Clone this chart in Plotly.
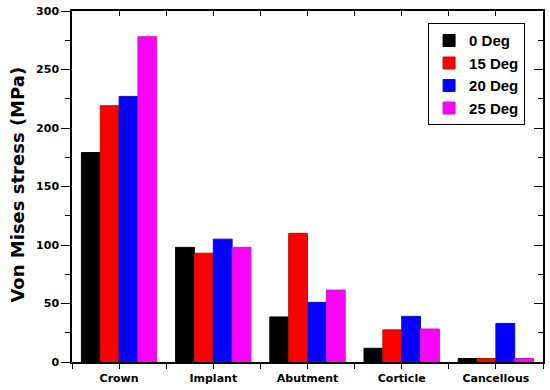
import plotly.graph_objects as go

categories = ["Crown", "Implant", "Abutment", "Corticle", "Cancellous"]
series_names = ["0 Deg", "15 Deg", "20 Deg", "25 Deg"]
deg0 = [179, 98, 38.5, 11.7, 3]
deg15 = [219, 93, 110, 27.5, 3]
deg20 = [227, 105, 51, 39, 33]
deg25 = [278, 98, 61.5, 28.2, 3]
y_ticks = [0, 50, 100, 150, 200, 250, 300]
y_title = "Von Mises stress (MPa)"

series = [deg0, deg15, deg20, deg25]
fills = ["#000000", "#FF0000", "#0000FF", "#FF00FF"]
edges = ["#000000", "#B01800", "#1010C0", "#C020C0"]
xpos = list(range(len(categories)))
bounds = [-0.5, 0.5, 1.5, 2.5, 3.5, 4.5]

fig = go.Figure()
for name, vals, fc, ec in zip(series_names, series, fills, edges):
    fig.add_trace(go.Bar(x=xpos, y=vals, name=name,
                         marker=dict(color=fc, line=dict(color=ec, width=1))))

# invisible trace to activate mirror axes
fig.add_trace(go.Scatter(x=[xpos[0]], y=[0], xaxis="x2", yaxis="y2",
                         mode="markers", marker=dict(opacity=0),
                         showlegend=False, hoverinfo="skip"))

tickfont = dict(family="DejaVu Sans", size=11, color="black", weight="bold")
fig.update_layout(
    width=550, height=390,
    margin=dict(l=72, r=7, t=11, b=28, autoexpand=False),
    paper_bgcolor="white", plot_bgcolor="white",
    barmode="group", bargap=0.2, bargroupgap=0,
    font=dict(family="DejaVu Sans", color="black"),
    xaxis=dict(range=[-0.5, 4.5], tickmode="array", tickvals=xpos, ticktext=categories,
               ticks="outside", ticklen=5, tickwidth=1, tickcolor="black",
               minor=dict(tickmode="array", tickvals=bounds,
                          ticks="outside", ticklen=5, tickcolor="black"),
               showline=True, linecolor="black", linewidth=1.5, showgrid=False,
               zeroline=False, tickfont=tickfont, automargin=False),
    yaxis=dict(range=[0, 300], tickmode="array", tickvals=y_ticks,
               ticks="outside", ticklen=9, tickwidth=1, tickcolor="black",
               minor=dict(dtick=25, ticks="outside", ticklen=5, tickcolor="black"),
               showline=True, linecolor="black", linewidth=1.5, showgrid=False,
               zeroline=False, tickfont=tickfont, automargin=False),
    xaxis2=dict(overlaying="x", side="top", matches="x", range=[-0.5, 4.5],
                tickmode="array", tickvals=xpos, ticks="inside", ticklen=5,
                tickcolor="black", showticklabels=False, automargin=False,
                minor=dict(tickmode="array", tickvals=bounds,
                           ticks="inside", ticklen=5, tickcolor="black"),
                showline=True, linecolor="black", linewidth=1.5, showgrid=False, zeroline=False),
    yaxis2=dict(overlaying="y", side="right", matches="y", range=[0, 300],
                tickmode="array", tickvals=y_ticks, ticks="inside", ticklen=9,
                tickcolor="black", showticklabels=False, automargin=False,
                minor=dict(dtick=25, ticks="inside", ticklen=5, tickcolor="black"),
                showline=True, linecolor="black", linewidth=1.5, showgrid=False, zeroline=False),
    legend=dict(x=0.756, y=0.965, xanchor="left", yanchor="top",
                bgcolor="white", bordercolor="black", borderwidth=1,
                font=dict(family="Liberation Sans", size=15, color="black", weight="bold"),
                tracegroupgap=0, itemwidth=30),
    showlegend=True,
    annotations=[dict(text=y_title, textangle=-90, xref="paper", yref="paper",
                      x=-0.115, y=0.505, xanchor="center", yanchor="middle",
                      showarrow=False,
                      font=dict(family="DejaVu Sans", size=18, color="black", weight="bold"))],
)

# remove the browser's default 8px body margin so the figure fills the window
fig.write_html("out.html", config={"displayModeBar": False},
               post_script="document.body.style.margin='0';document.body.style.overflow='hidden';")
